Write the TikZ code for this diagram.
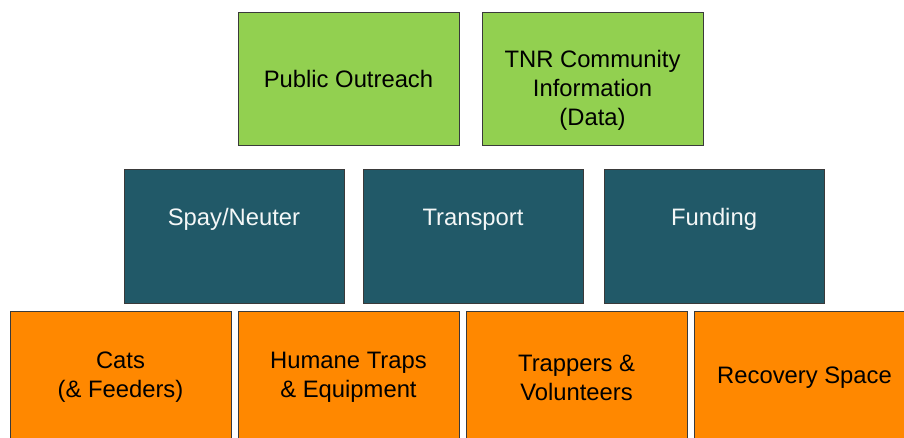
\documentclass[tikz,border=0pt]{standalone}
\usepackage{fontspec}
\setmainfont{Liberation Sans}
\usetikzlibrary{positioning}

\definecolor{boxgreen}{HTML}{92D050}
\definecolor{boxteal}{HTML}{215968}
\definecolor{boxorange}{HTML}{FF8800}
\definecolor{boxedge}{HTML}{3A3A3A}

\begin{document}
\begin{tikzpicture}[
x=1pt, y=-1pt,
basebox/.style={rectangle, draw=boxedge, line width=0.9pt, outer sep=0pt,
  minimum width=221pt, minimum height=133pt, align=center,
  font=\fontsize{23.8}{28.8}\selectfont},
greenbox/.style={basebox, fill=boxgreen, text=black},
tealbox/.style={basebox, fill=boxteal, text=white!95!boxteal,
  minimum width=220pt, minimum height=134pt, text height=18pt, text depth=38pt},
orangebox/.style={basebox, fill=boxorange, text=black}]
\clip (0,0) rectangle (904,438);
% Top row
\node[greenbox] (outreach) at (348.5,78.5) {Public Outreach};
\node[greenbox, right=23pt of outreach,
  label={[name=tnrtext, align=center, yshift=-12pt,
    font=\fontsize{23.8}{28.8}\selectfont]center:TNR Community\\Information\\(Data)}]
  (tnr) {};
% Middle row
\node[tealbox] (spay) at (234,236) {Spay/Neuter};
\node[tealbox, right=19pt of spay] (transport) {Transport};
\node[tealbox, right=21pt of transport] (funding) {Funding};
% Bottom row
\node[orangebox] (cats) at (120.5,377.5) {Cats\\(\& Feeders)};
\node[orangebox, right=7pt of cats] (traps) {Humane Traps\\\& Equipment};
\node[orangebox, right=7pt of traps] (trappers) {Trappers \&\\Volunteers};
\node[orangebox, right=7pt of trappers] (recovery) {Recovery Space};
\end{tikzpicture}
\end{document}
